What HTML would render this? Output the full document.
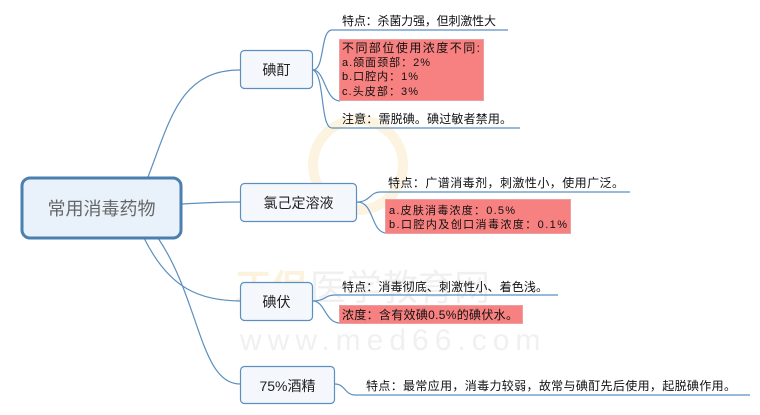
<!DOCTYPE html>
<html><head><meta charset="utf-8"><style>
html,body{margin:0;padding:0;background:#fff;width:760px;height:415px;overflow:hidden}
svg text{font-family:"Liberation Sans","Noto Sans CJK SC",sans-serif;}
</style></head><body>
<svg width="760" height="415" viewBox="0 0 760 415" xmlns="http://www.w3.org/2000/svg">
<g opacity="0.12">
<circle cx="358" cy="165" r="45" fill="none" stroke="#e8a300" stroke-width="10"/>
<text x="235" y="300" font-size="36" fill="#e8a300" font-weight="bold">正保</text>
<text x="310" y="300" font-size="36" fill="#888">医学教育网</text>
<text x="240" y="350" font-size="30" fill="#888" letter-spacing="6">www.med66.com</text>
</g>
<g fill="none" stroke="#5b8fbf" stroke-width="1.2">
<path d="M148,177 C170,120 180,70 240,70"/>
<path d="M182,204 C200,203 220,202 240,202"/>
<path d="M144,238 C170,290 200,300 240,301"/>
<path d="M158,238 C200,300 200,384 240,384"/>
<path d="M313,70 C325,70 320,30 332,30 L508,30"/>
<path d="M313,70 C325,70 325,101 340,101"/>
<path d="M313,70 C325,75 320,128 332,128 L520,128"/>
<path d="M357,202 C370,202 370,192 380,192 L630,192"/>
<path d="M357,202 C375,202 370,233 387,233"/>
<path d="M313,301 C325,301 325,295 335,295 L558,295"/>
<path d="M313,301 C325,301 325,323 340,323"/>
<path d="M335,384 C345,384 345,395 355,395 L750,395"/>
</g>
<rect x="22" y="178" width="159" height="60" rx="8" fill="#e9f1fa" stroke="#4a80b0" stroke-width="3"/>
<text x="101.5" y="215" font-size="18" fill="#666" text-anchor="middle">常用消毒药物</text>
<g fill="#f4f8fd" stroke="#5b8fbf" stroke-width="1.2">
<rect x="240.5" y="50.5" width="72" height="38" rx="4"/>
<rect x="240.5" y="183.5" width="116" height="38" rx="4"/>
<rect x="240.5" y="282.5" width="72" height="38" rx="4"/>
<rect x="240.5" y="366.5" width="94" height="37" rx="4"/>
</g>
<g font-size="14" fill="#222" text-anchor="middle">
<text x="276.5" y="75">碘酊</text>
<text x="298.5" y="208">氯己定溶液</text>
<text x="276.5" y="307">碘伏</text>
<text x="287.5" y="391">75%酒精</text>
</g>
<g fill="#f78080" stroke="#e9a0a0">
<rect x="339.5" y="39.5" width="144" height="61"/>
<rect x="385.5" y="199.5" width="185" height="34"/>
<rect x="339.5" y="305.5" width="183" height="18"/>
</g>
<g font-size="12" fill="#111">
<text x="342" y="25" textLength="154">特点：杀菌力强，但刺激性大</text>
<text x="342" y="52" textLength="138">不同部位使用浓度不同:</text>
<text x="342" y="66" font-size="11" textLength="88">a.颌面颈部：2%</text>
<text x="342" y="80" font-size="11" textLength="76">b.口腔内：1%</text>
<text x="342" y="95" font-size="11" textLength="76">c.头皮部：3%</text>
<text x="342" y="123" textLength="170">注意：需脱碘。碘过敏者禁用。</text>
<text x="388" y="187" textLength="236">特点：广谱消毒剂，刺激性小，使用广泛。</text>
<text x="389" y="214" font-size="11" textLength="126">a.皮肤消毒浓度：0.5%</text>
<text x="389" y="228" font-size="11" textLength="178">b.口腔内及创口消毒浓度：0.1%</text>
<text x="342" y="291" textLength="206">特点：消毒彻底、刺激性小、着色浅。</text>
<text x="342" y="319" textLength="176">浓度：含有效碘0.5%的碘伏水。</text>
<text x="366" y="390" textLength="370">特点：最常应用，消毒力较弱，故常与碘酊先后使用，起脱碘作用。</text>
</g>
</svg>
</body></html>
